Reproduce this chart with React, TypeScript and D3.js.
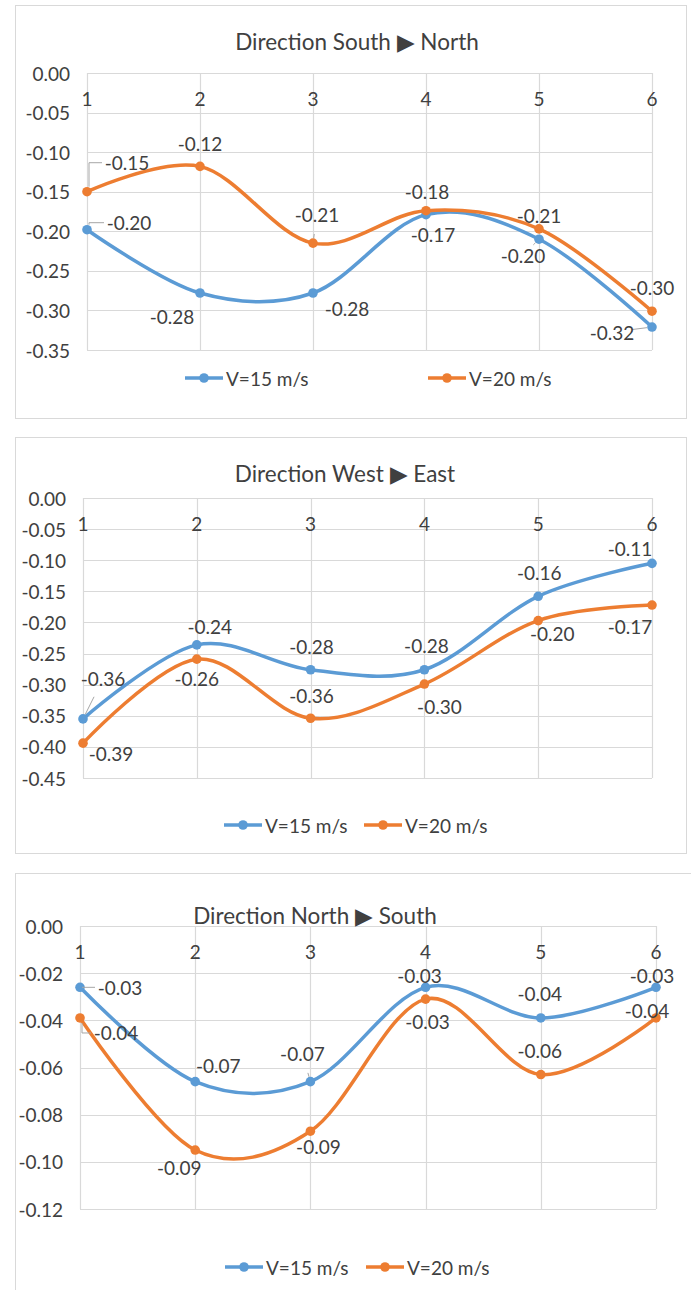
import * as d3 from "d3";
import { useEffect, useRef } from "react";

const categories = ["1", "2", "3", "4", "5", "6"];
const seriesNames = ["V=15 m/s", "V=20 m/s"];

// Direction South -> North
const snV15 = [-0.198, -0.278, -0.278, -0.179, -0.21, -0.321];
const snV20 = [-0.15, -0.118, -0.215, -0.174, -0.197, -0.301];
const snLabels15 = ["-0.20", "-0.28", "-0.28", "-0.17", "-0.20", "-0.32"];
const snLabels20 = ["-0.15", "-0.12", "-0.21", "-0.18", "-0.21", "-0.30"];

// Direction West -> East
const weV15 = [-0.355, -0.236, -0.276, -0.276, -0.158, -0.105];
const weV20 = [-0.394, -0.259, -0.354, -0.299, -0.197, -0.172];
const weLabels15 = ["-0.36", "-0.24", "-0.28", "-0.28", "-0.16", "-0.11"];
const weLabels20 = ["-0.39", "-0.26", "-0.36", "-0.30", "-0.20", "-0.17"];

// Direction North -> South
const nsV15 = [-0.026, -0.066, -0.066, -0.026, -0.039, -0.026];
const nsV20 = [-0.039, -0.095, -0.087, -0.031, -0.063, -0.039];
const nsLabels15 = ["-0.03", "-0.07", "-0.07", "-0.03", "-0.04", "-0.03"];
const nsLabels20 = ["-0.04", "-0.09", "-0.09", "-0.03", "-0.06", "-0.04"];

const COLORS = ["#5B9BD5", "#ED7D31"];
const FONT = "Lato, 'Open Sans', sans-serif";
const FS = 19;

// [dx, dy, leader]  leader: 1 = straight, 2 = elbow
type Off = [number, number, number?];

const panels = [
  {
    title: "Direction South \u25B6 North",
    titleX: 357,
    titleY: 41,
    frame: { x: 15, y: 5, w: 671, h: 413 },
    plot: { l: 87, r: 652, t: 73, b: 350 },
    min: -0.35,
    step: 0.05,
    series: [snV15, snV20],
    labels: [snLabels15, snLabels20],
    offsets: [
      [[42, -7, 2], [-28, 23], [34, 15], [7, 20], [-16, 16, 1], [-40, 5, 1]],
      [[40, -29, 2], [0, -23], [4, -29, 1], [1, -19], [0, -13], [0, -24]],
    ] as Off[][],
    legendY: 378,
    legendX: [185, 428],
  },
  {
    title: "Direction West \u25B6 East",
    titleX: 345,
    titleY: 473,
    frame: { x: 15, y: 437, w: 671, h: 416 },
    plot: { l: 83, r: 652, t: 498, b: 778 },
    min: -0.45,
    step: 0.05,
    series: [weV15, weV20],
    labels: [weLabels15, weLabels20],
    offsets: [
      [[20, -40, 1], [13, -18], [1, -23], [2, -24], [1, -24], [-22, -15]],
      [[28, 10], [0, 19], [1, -23], [15, 22], [14, 13], [-22, 21]],
    ] as Off[][],
    legendY: 825,
    legendX: [224, 364],
  },
  {
    title: "Direction North \u25B6 South",
    titleX: 315,
    titleY: 915,
    frame: { x: 15, y: 873, w: 700, h: 430 },
    plot: { l: 80, r: 656, t: 926, b: 1209 },
    min: -0.12,
    step: 0.02,
    series: [nsV15, nsV20],
    labels: [nsLabels15, nsLabels20],
    offsets: [
      [[40, 0, 2], [23, -16], [-8, -28, 1], [-6, -12], [-1, -24], [-4, -12]],
      [[36, 15, 2], [-16, 17], [8, 15], [2, 22], [-1, -24], [-9, -7]],
    ] as Off[][],
    legendY: 1267,
    legendX: [225, 366],
  },
];

export default function App() {
  const ref = useRef<SVGSVGElement>(null);

  useEffect(() => {
    const svg = d3.select(ref.current);
    svg.selectAll("*").remove();
    svg.append("rect").attr("width", 691).attr("height", 1290).attr("fill", "#fff");

    panels.forEach((p) => {
      const g = svg.append("g");
      g.append("rect")
        .attr("x", p.frame.x + 0.5)
        .attr("y", p.frame.y + 0.5)
        .attr("width", p.frame.w)
        .attr("height", p.frame.h)
        .attr("fill", "#fff")
        .attr("stroke", "#d9d9d9");

      const x = d3.scalePoint<string>().domain(categories).range([p.plot.l, p.plot.r]);
      const y = d3.scaleLinear().domain([p.min, 0]).range([p.plot.b, p.plot.t]);
      const n = Math.round(-p.min / p.step);
      const ticks = d3.range(0, n + 1).map((i) => -i * p.step);

      // gridlines
      g.selectAll("line.h")
        .data(ticks)
        .join("line")
        .attr("x1", p.plot.l)
        .attr("x2", p.plot.r)
        .attr("y1", (d) => Math.round(y(d)) + 0.5)
        .attr("y2", (d) => Math.round(y(d)) + 0.5)
        .attr("stroke", "#d9d9d9")
        .attr("stroke-width", 1.2);
      g.selectAll("line.v")
        .data(categories)
        .join("line")
        .attr("x1", (d) => Math.round(x(d)!) + 0.5)
        .attr("x2", (d) => Math.round(x(d)!) + 0.5)
        .attr("y1", p.plot.t)
        .attr("y2", p.plot.b)
        .attr("stroke", "#d9d9d9")
        .attr("stroke-width", 1.2);

      // y tick labels
      g.selectAll("text.yt")
        .data(ticks)
        .join("text")
        .attr("x", p.plot.l - 17)
        .attr("y", (d) => y(d))
        .attr("text-anchor", "end")
        .attr("dominant-baseline", "central")
        .attr("font-family", FONT)
        .attr("font-size", FS)
        .attr("fill", "#404040")
        .text((d) => (Math.abs(d) < 1e-9 ? "0.00" : d.toFixed(2)));

      // category labels below the 0 axis
      g.selectAll("text.xt")
        .data(categories)
        .join("text")
        .attr("x", (d) => x(d)!)
        .attr("y", p.plot.t + 25)
        .attr("text-anchor", "middle")
        .attr("dominant-baseline", "central")
        .attr("font-family", FONT)
        .attr("font-size", FS)
        .attr("fill", "#404040")
        .text((d) => d);

      // title
      g.append("text")
        .attr("x", p.titleX)
        .attr("y", p.titleY)
        .attr("text-anchor", "middle")
        .attr("dominant-baseline", "central")
        .attr("font-family", FONT)
        .attr("font-size", 22.5)
        .attr("fill", "#404040")
        .text(p.title);

      const line = d3
        .line<number>()
        .x((_, i) => x(categories[i])!)
        .y((d) => y(d))
        .curve(d3.curveCardinal.tension(0));

      p.series.forEach((vals, s) => {
        g.append("path")
          .attr("d", line(vals)!)
          .attr("fill", "none")
          .attr("stroke", COLORS[s])
          .attr("stroke-width", 3.5)
          .attr("stroke-linecap", "round");
        g.selectAll(`circle.s${s}`)
          .data(vals)
          .join("circle")
          .attr("cx", (_, i) => x(categories[i])!)
          .attr("cy", (d) => y(d))
          .attr("r", 4.8)
          .attr("fill", COLORS[s]);
      });

      // data labels with leader lines where Excel moved them
      p.series.forEach((vals, s) => {
        vals.forEach((v, i) => {
          const px = x(categories[i])!;
          const py = y(v);
          const [dx, dy, leader] = p.offsets[s][i];
          if (leader === 1) {
            const len = Math.hypot(dx, dy);
            const ux = dx / len;
            const uy = dy / len;
            const end = Math.max(len - 20, 8);
            g.append("line")
              .attr("x1", px + ux * 5)
              .attr("y1", py + uy * 5)
              .attr("x2", px + ux * end)
              .attr("y2", py + uy * end)
              .attr("stroke", "#a6a6a6")
              .attr("stroke-width", 1);
          } else if (leader === 2) {
            const ly = py + dy;
            const left = px + dx - 25;
            const sy = Math.abs(dy) < 6 ? ly : py + Math.sign(dy) * 5;
            g.append("path")
              .attr("d", `M${px + 2},${sy}L${px + 2},${ly}L${left},${ly}`)
              .attr("fill", "none")
              .attr("stroke", "#a6a6a6")
              .attr("stroke-width", 1);
          }
          g.append("text")
            .attr("x", px + dx)
            .attr("y", py + dy)
            .attr("text-anchor", "middle")
            .attr("dominant-baseline", "central")
            .attr("font-family", FONT)
            .attr("font-size", FS)
            .attr("fill", "#404040")
            .text(p.labels[s][i]);
        });
      });

      // legend
      seriesNames.forEach((name, s) => {
        const lx = p.legendX[s];
        g.append("line")
          .attr("x1", lx)
          .attr("x2", lx + 38)
          .attr("y1", p.legendY)
          .attr("y2", p.legendY)
          .attr("stroke", COLORS[s])
          .attr("stroke-width", 3.5);
        g.append("circle")
          .attr("cx", lx + 19)
          .attr("cy", p.legendY)
          .attr("r", 4.8)
          .attr("fill", COLORS[s]);
        g.append("text")
          .attr("x", lx + 41)
          .attr("y", p.legendY)
          .attr("dominant-baseline", "central")
          .attr("font-family", FONT)
          .attr("font-size", FS)
          .attr("fill", "#404040")
          .text(name);
      });
    });
  }, []);

  return (
    <svg
      ref={ref}
      width={691}
      height={1290}
      style={{ position: "absolute", left: 0, top: 0 }}
    />
  );
}
